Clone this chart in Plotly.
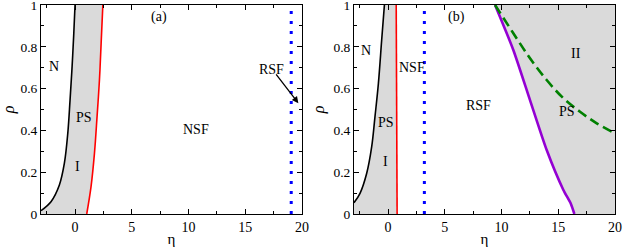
import plotly.graph_objects as go

# ---------------- data ----------------
# panel (a)
a_black_eta = [-3.0, -2.12, -1.38, -0.94, -0.64, -0.44, -0.26, -0.11, 0.0]
a_black_rho = [0.016, 0.059, 0.139, 0.243, 0.386, 0.545, 0.705, 0.865, 1.0]
a_red_eta = [1.03, 1.41, 1.71, 1.94, 2.15, 2.30, 2.45]
a_red_rho = [0.0, 0.131, 0.29, 0.466, 0.641, 0.817, 1.0]
a_blue_eta = [19.05, 19.05]
a_blue_rho = [0.0, 1.0]

# panel (b)
b_black_eta = [-3.0, -2.47, -1.88, -1.44, -1.15, -0.85, -0.56, -0.32]
b_black_rho = [0.054, 0.099, 0.195, 0.322, 0.466, 0.625, 0.833, 1.0]
b_red_eta = [0.80, 0.78, 0.76, 0.74, 0.72]
b_red_rho = [0.0, 0.25, 0.5, 0.75, 1.0]
b_blue_eta = [3.2, 3.2]
b_blue_rho = [0.0, 1.0]
b_purple_eta = [9.43, 11.04, 12.51, 13.98, 15.45, 16.1, 16.42]
b_purple_rho = [1.0, 0.785, 0.545, 0.306, 0.115, 0.05, 0.0]
b_green_eta = [9.43, 11.04, 12.51, 13.98, 15.45, 16.92, 18.39, 20.0]
b_green_rho = [1.0, 0.865, 0.745, 0.641, 0.554, 0.489, 0.434, 0.386]

x_range = [-3, 20]
y_range = [0, 1]
x_ticks = [0, 5, 10, 15, 20]
y_ticks = [0, 0.2, 0.4, 0.6, 0.8, 1]
y_ticklabels = ["0", "0.2", "0.4", "0.6", "0.8", "1"]

# labels: (text, eta, rho)
a_labels = [("(a)", 7.4, 0.945), ("N", -1.88, 0.705), ("PS", 0.77, 0.463),
            ("I", 0.18, 0.228), ("NSF", 10.65, 0.403), ("RSF", 17.3, 0.69)]
b_labels = [("(b)", 6.05, 0.945), ("N", -1.94, 0.78), ("NSF", 2.1, 0.70),
            ("PS", -0.18, 0.44), ("I", -0.26, 0.25), ("RSF", 7.96, 0.52),
            ("II", 16.56, 0.77), ("PS", 15.74, 0.49)]
a_arrow = {"from": (17.62, 0.675), "to": (19.68, 0.53)}

# ---------------- figure ----------------
GRAY = "#dadada"
FONT = "Liberation Serif"

fig = go.Figure()

# panel (a) fill between black and red
poly_x = [x_range[0]] + a_black_eta + [a_red_eta[-1]] + a_red_eta[::-1]
poly_y = [0.0] + a_black_rho + [1.0] + a_red_rho[::-1]
fig.add_trace(go.Scatter(x=poly_x, y=poly_y, fill="toself", fillcolor=GRAY,
                         line=dict(width=0), mode="lines", hoverinfo="skip",
                         showlegend=False, xaxis="x", yaxis="y"))
fig.add_trace(go.Scatter(x=a_black_eta, y=a_black_rho, mode="lines",
                         line=dict(color="black", width=1.6, shape="spline"),
                         showlegend=False, xaxis="x", yaxis="y"))
fig.add_trace(go.Scatter(x=a_red_eta, y=a_red_rho, mode="lines",
                         line=dict(color="red", width=1.6, shape="spline"),
                         showlegend=False, xaxis="x", yaxis="y"))
fig.add_trace(go.Scatter(x=a_blue_eta, y=a_blue_rho, mode="lines",
                         line=dict(color="blue", width=3, dash="3px,7px"),
                         showlegend=False, xaxis="x", yaxis="y"))

# panel (b) fills
pl_x = [x_range[0], x_range[0]] + b_black_eta[1:] + b_red_eta[::-1]
pl_y = [0.0, b_black_rho[0]] + b_black_rho[1:] + b_red_rho[::-1]
fig.add_trace(go.Scatter(x=pl_x, y=pl_y, fill="toself", fillcolor=GRAY,
                         line=dict(width=0), mode="lines", hoverinfo="skip",
                         showlegend=False, xaxis="x2", yaxis="y2"))
pr_x = b_purple_eta + [x_range[1], x_range[1]]
pr_y = b_purple_rho + [0.0, 1.0]
fig.add_trace(go.Scatter(x=pr_x, y=pr_y, fill="toself", fillcolor=GRAY,
                         line=dict(width=0, shape="spline", smoothing=0.6),
                         mode="lines", hoverinfo="skip",
                         showlegend=False, xaxis="x2", yaxis="y2"))
fig.add_trace(go.Scatter(x=b_black_eta, y=b_black_rho, mode="lines",
                         line=dict(color="black", width=1.6, shape="spline"),
                         showlegend=False, xaxis="x2", yaxis="y2"))
fig.add_trace(go.Scatter(x=b_red_eta, y=b_red_rho, mode="lines",
                         line=dict(color="red", width=1.6),
                         showlegend=False, xaxis="x2", yaxis="y2"))
fig.add_trace(go.Scatter(x=b_blue_eta, y=b_blue_rho, mode="lines",
                         line=dict(color="blue", width=3, dash="3px,7px"),
                         showlegend=False, xaxis="x2", yaxis="y2"))
fig.add_trace(go.Scatter(x=b_purple_eta, y=b_purple_rho, mode="lines",
                         line=dict(color="#9400d3", width=2.6, shape="spline",
                                   smoothing=0.6),
                         showlegend=False, xaxis="x2", yaxis="y2"))
fig.add_trace(go.Scatter(x=b_green_eta, y=b_green_rho, mode="lines",
                         line=dict(color="#008000", width=2.6, dash="10px,5px",
                                   shape="spline"),
                         showlegend=False, xaxis="x2", yaxis="y2"))

annotations = []
for t, x, y in a_labels:
    annotations.append(dict(text=t, x=x, y=y, xref="x", yref="y", showarrow=False,
                            font=dict(family=FONT, size=14, color="black")))
for t, x, y in b_labels:
    annotations.append(dict(text=t, x=x, y=y, xref="x2", yref="y2", showarrow=False,
                            font=dict(family=FONT, size=14, color="black")))
annotations.append(dict(x=a_arrow["to"][0], y=a_arrow["to"][1],
                        ax=a_arrow["from"][0], ay=a_arrow["from"][1],
                        xref="x", yref="y", axref="x", ayref="y", text="",
                        showarrow=True, arrowhead=2, arrowsize=1, arrowwidth=1.3,
                        arrowcolor="black"))

axis_common = dict(range=x_range, tickmode="array", tickvals=x_ticks,
                   ticks="inside", ticklen=5, tickcolor="black",
                   showline=True, linecolor="black", linewidth=1, mirror="allticks",
                   showgrid=False, zeroline=False, ticklabeloverflow="allow",
                   minor=dict(dtick=2.5, tick0=0, ticks="inside", ticklen=3,
                              tickcolor="black", showgrid=False),
                   tickfont=dict(family=FONT, size=14, color="black"),
                   title=dict(text="η", font=dict(family=FONT, size=15, color="black"),
                              standoff=0))
yaxis_common = dict(range=y_range, tickmode="array", tickvals=y_ticks,
                    ticktext=y_ticklabels,
                    ticks="inside", ticklen=5, tickcolor="black",
                    showline=True, linecolor="black", linewidth=1, mirror="allticks",
                    showgrid=False, zeroline=False, ticklabeloverflow="allow",
                    minor=dict(dtick=0.1, tick0=0, ticks="inside", ticklen=3,
                               tickcolor="black", showgrid=False),
                    tickfont=dict(family=FONT, size=13.5, color="black"),
                    title=dict(text="<i>ρ</i>", font=dict(family=FONT, size=16, color="black"),
                               standoff=4))

fig.update_layout(
    width=623, height=247,
    margin=dict(l=0, r=0, t=5, b=33, autoexpand=False),
    paper_bgcolor="white", plot_bgcolor="white",
    xaxis=dict(axis_common, domain=[41 / 623, 302 / 623], anchor="y"),
    yaxis=dict(yaxis_common, domain=[0, 1], anchor="x"),
    xaxis2=dict(axis_common, domain=[354 / 623, 615 / 623], anchor="y2"),
    yaxis2=dict(yaxis_common, domain=[0, 1], anchor="x2"),
    annotations=annotations,
    showlegend=False,
)

fig.write_html(
    "out.html",
    config={"displayModeBar": False},
    post_script="document.body.style.margin='0';document.body.style.overflow='hidden';",
)
